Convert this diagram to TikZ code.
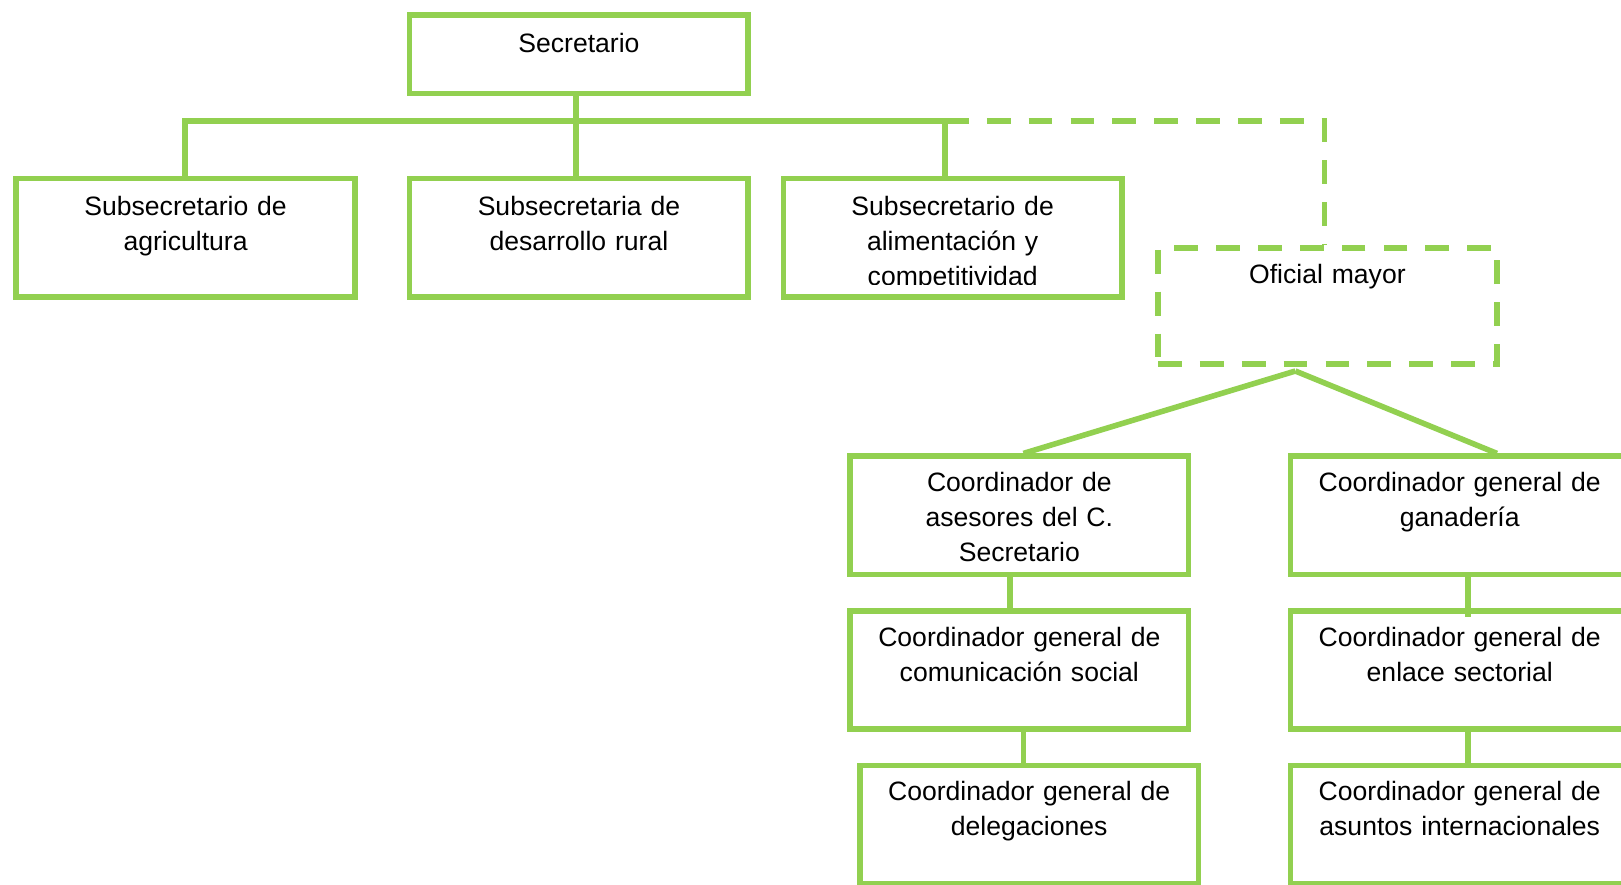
\documentclass[tikz,border=0pt]{standalone}
\usepackage{fontspec}
\setmainfont{Liberation Sans}
\definecolor{boxgreen}{RGB}{146,208,80}
\tikzset{
  box/.style={draw=boxgreen, line width=2.7pt, rectangle, minimum width=163.8pt, minimum height=57.2pt, inner sep=0pt},
  dbox/.style={box, dash pattern=on 11.5pt off 8.75pt},
  lbl/.style={anchor=base, text width=158pt, align=center, inner sep=0pt, font=\fontsize{12.85}{16.75}\selectfont},
  conn/.style={draw=boxgreen, line width=2.7pt},
  dconn/.style={conn, dash pattern=on 11.5pt off 8.75pt},
}
\begin{document}
\begin{tikzpicture}[x=0.5pt, y=-0.5pt]
\useasboundingbox (0,0) rectangle (1568,856);
\fill[white] (0,0) rectangle (1568,856);
\clip (0,0) rectangle (1568,856);

% boxes
\node[box, minimum height=37.8pt] (sec) at (560,52.5) {};
\node[box] (agr) at (179.5,230) {};
\node[box] (des) at (560,230) {};
\node[box] (ali) at (921.5,230) {};
\node[dbox, minimum height=56.2pt] (ofi) at (1284,296) {};
\node[box] (ase) at (986,498.5) {};
\node[box] (gan) at (1412,498.5) {};
\node[box] (com) at (986,648) {};
\node[box] (enl) at (1412,648) {};
\node[box] (del) at (995.5,797.5) {};
\node[box] (asu) at (1412,797.5) {};

% labels
\node[lbl] (tsec) at ([yshift=-19.3pt]sec.north) {Secretario};
\node[lbl] (tagr) at ([yshift=-19.3pt]agr.north) {Subsecretario de\\agricultura};
\node[lbl] (tdes) at ([yshift=-19.3pt]des.north) {Subsecretaria de\\desarrollo rural};
\begin{scope}
  \clip (755,170) rectangle (1088,275.5);
  \node[lbl] (tali) at ([yshift=-19.3pt]ali.north) {Subsecretario de\\alimentación y\\competitividad};
\end{scope}
\node[lbl] (tofi) at ([yshift=-18.6pt]ofi.north) {Oficial mayor};
\node[lbl] (tase) at ([yshift=-18.6pt]ase.north) {Coordinador de\\asesores del C.\\Secretario};
\node[lbl] (tgan) at ([yshift=-18.6pt]gan.north) {Coordinador general de\\ganadería};
\node[lbl] (tcom) at ([yshift=-18.8pt]com.north) {Coordinador general de\\comunicación social};
\node[lbl] (tenl) at ([yshift=-18.8pt]enl.north) {Coordinador general de\\enlace sectorial};
\node[lbl] (tdel) at ([yshift=-18.6pt]del.north) {Coordinador general de\\delegaciones};
\node[lbl] (tasu) at ([yshift=-18.6pt]asu.north) {Coordinador general de\\asuntos internacionales};

% bus coordinates
\coordinate (bus) at (557,117);
\coordinate (busL) at (179,117);
\coordinate (busR) at (914,117);
\coordinate (busD) at (1281,117);

% connectors
\draw[conn] (sec.south -| bus) -- (bus);
\draw[conn] (agr.north -| busL) -- (busL) -- (busR) -- (ali.north -| busR);
\draw[conn] (bus) -- (des.north -| bus);
\draw[dconn] (busR) -- (busD) -- (ofi.north -| busD);

\coordinate (apex) at ([xshift=-15.5pt, yshift=-2pt]ofi.south);
\draw[conn] (apex) -- ([xshift=2pt]ase.north);
\draw[conn] (apex) -- ([xshift=18pt]gan.north);

\draw[conn] ([xshift=-4.5pt]ase.south) -- ([xshift=-4.5pt]com.north);
\draw[conn] ([xshift=2pt]com.south) -- ([xshift=-2.75pt]del.north);
\draw[conn] ([xshift=4pt]gan.south) -- ([xshift=4pt, yshift=-4.5pt]enl.north);
\draw[conn] ([xshift=4pt]enl.south) -- ([xshift=4pt]asu.north);
\end{tikzpicture}
\end{document}
